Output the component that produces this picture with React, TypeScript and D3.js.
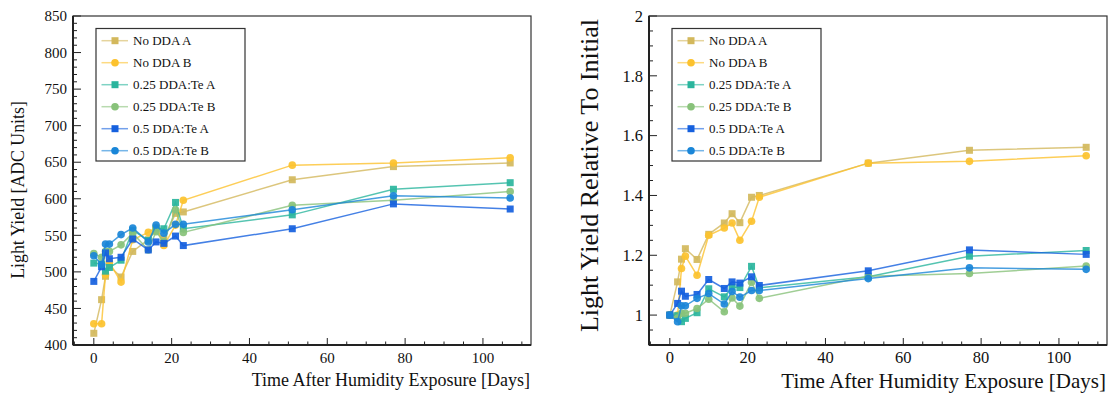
import React from 'react';
import * as d3 from 'd3';

// days after exposure (shared by every series)
const days = [0, 2, 3, 4, 7, 10, 14, 16, 18, 21, 23, 51, 77, 107];

const seriesNames = ['No DDA A', 'No DDA B', '0.25 DDA:Te A', '0.25 DDA:Te B', '0.5 DDA:Te A', '0.5 DDA:Te B'];
const seriesColors = ['#d3b85c', '#fcc22e', '#2ab59d', '#88c27a', '#1560de', '#1a86d8'];
const seriesShapes = ['square', 'circle', 'square', 'circle', 'square', 'circle'];

// left panel: light yield in ADC units
const adcNoDdaA = [416, 462, 494, 508, 493, 528, 544, 557, 545, 580, 582, 626, 644, 649];
const adcNoDdaB = [429, 429, 496, 513, 486, 544, 554, 561, 536, 564, 598, 646, 649, 656];
const adcQuarterA = [512, 511, 501, 506, 516, 557, 543, 560, 559, 595, 559, 578, 613, 622];
const adcQuarterB = [525, 520, 528, 528, 537, 553, 530, 555, 541, 585, 554, 591, 598, 610];
const adcHalfA = [487, 507, 526, 518, 520, 545, 530, 541, 539, 549, 536, 559, 593, 586];
const adcHalfB = [522, 510, 538, 538, 551, 560, 541, 564, 553, 565, 565, 585, 604, 601];

// right panel: light yield relative to day 0
const relNoDdaA = [1, 1.111, 1.187, 1.222, 1.186, 1.27, 1.308, 1.339, 1.309, 1.394, 1.4, 1.508, 1.551, 1.561];
const relNoDdaB = [1, 1.0, 1.156, 1.197, 1.133, 1.267, 1.291, 1.308, 1.25, 1.314, 1.394, 1.508, 1.514, 1.533];
const relQuarterA = [1, 0.998, 0.978, 0.989, 1.008, 1.088, 1.061, 1.094, 1.092, 1.163, 1.091, 1.128, 1.197, 1.216];
const relQuarterB = [1, 0.99, 1.006, 1.006, 1.022, 1.053, 1.011, 1.057, 1.03, 1.11, 1.056, 1.13, 1.139, 1.164];
const relHalfA = [1, 1.039, 1.08, 1.063, 1.069, 1.119, 1.089, 1.111, 1.107, 1.128, 1.099, 1.148, 1.218, 1.203];
const relHalfB = [1, 0.978, 1.031, 1.031, 1.056, 1.072, 1.037, 1.079, 1.06, 1.082, 1.082, 1.122, 1.158, 1.153];

const adcTicks = [400, 450, 500, 550, 600, 650, 700, 750, 800, 850];
const relTicks = [1, 1.2, 1.4, 1.6, 1.8, 2];
const dayTicks = [0, 20, 40, 60, 80, 100];

const FONT = '"Liberation Serif", "Times New Roman", serif';

const drawPanel = (svg, cfg) => {
  const { left, right, top, bottom, yDomain, yTicks, yMinorStep, series, yTitle, yTitleSize, tickSize, xTitleSize, yTitleX, legendX, fmt } = cfg;

  const x = d3.scaleLinear().domain([-5.35, 112.35]).range([left, right]);
  const y = d3.scaleLinear().domain(yDomain).range([bottom, top]);

  const g = svg.append('g');

  // minor / major ticks (drawn inward, ROOT style)
  const xMinor = d3.range(-5, 112.35, 5);
  g.selectAll('.xminor').data(xMinor).enter().append('line')
    .attr('x1', d => x(d)).attr('x2', d => x(d))
    .attr('y1', bottom).attr('y2', d => bottom - (d % 20 === 0 ? 7 : 3.5))
    .attr('stroke', '#222').attr('stroke-width', 1);

  const yMinor = d3.range(yDomain[0], yDomain[1] + 1e-9, yMinorStep);
  const isMajor = v => yTicks.some(t => Math.abs(t - v) < 1e-6);
  g.selectAll('.yminor').data(yMinor).enter().append('line')
    .attr('x1', left).attr('x2', d => left + (isMajor(d) ? 8 : 4))
    .attr('y1', d => y(d)).attr('y2', d => y(d))
    .attr('stroke', '#222').attr('stroke-width', 1);

  // frame
  g.append('rect')
    .attr('x', left).attr('y', top)
    .attr('width', right - left).attr('height', bottom - top)
    .attr('fill', 'none').attr('stroke', '#333').attr('stroke-width', 1.2);
  g.append('line').attr('x1', left).attr('x2', left).attr('y1', top).attr('y2', bottom)
    .attr('stroke', '#222').attr('stroke-width', 2);
  g.append('line').attr('x1', left).attr('x2', right).attr('y1', bottom).attr('y2', bottom)
    .attr('stroke', '#222').attr('stroke-width', 2);

  // tick labels
  g.selectAll('.xlab').data(dayTicks).enter().append('text')
    .attr('x', d => x(d)).attr('y', bottom + 18)
    .attr('text-anchor', 'middle')
    .style('font-family', FONT).style('font-size', tickSize + 'px').style('fill', '#111')
    .text(d => d);
  g.selectAll('.ylab').data(yTicks).enter().append('text')
    .attr('x', left - 6).attr('y', d => y(d)).attr('dy', '0.35em')
    .attr('text-anchor', 'end')
    .style('font-family', FONT).style('font-size', tickSize + 'px').style('fill', '#111')
    .text(fmt);

  // axis titles
  g.append('text')
    .attr('x', right - 1).attr('y', cfg.xTitleY)
    .attr('text-anchor', 'end')
    .style('font-family', FONT).style('font-size', xTitleSize + 'px').style('fill', '#111')
    .text('Time After Humidity Exposure [Days]');
  g.append('text')
    .attr('transform', `translate(${yTitleX}, ${cfg.yTitleY}) rotate(-90)`)
    .attr('text-anchor', cfg.yTitleAnchor)
    .style('font-family', FONT).style('font-size', yTitleSize + 'px').style('fill', '#111')
    .text(yTitle);

  const line = d3.line().x((d, i) => x(days[i])).y(d => y(d));

  series.forEach((vals, si) => {
    const color = seriesColors[si];
    g.append('path')
      .datum(vals)
      .attr('d', line)
      .attr('fill', 'none')
      .attr('stroke', color)
      .attr('stroke-width', 1.5)
      .attr('stroke-opacity', 0.8);
    const pts = g.append('g');
    vals.forEach((v, i) => {
      if (seriesShapes[si] === 'square') {
        pts.append('rect')
          .attr('x', x(days[i]) - 3.5).attr('y', y(v) - 3.5)
          .attr('width', 7).attr('height', 7)
          .attr('fill', color).attr('fill-opacity', 0.92);
      } else {
        pts.append('circle')
          .attr('cx', x(days[i])).attr('cy', y(v)).attr('r', 3.8)
          .attr('fill', color).attr('fill-opacity', 0.92);
      }
    });
  });

  // legend
  const lg = g.append('g');
  lg.append('rect')
    .attr('x', legendX).attr('y', 28.5)
    .attr('width', 149).attr('height', 132.5)
    .attr('fill', 'white').attr('stroke', '#333').attr('stroke-width', 1.2);
  seriesNames.forEach((name, si) => {
    const ly = 40.7 + si * 22;
    const color = seriesColors[si];
    lg.append('line')
      .attr('x1', legendX + 5.5).attr('x2', legendX + 32)
      .attr('y1', ly).attr('y2', ly)
      .attr('stroke', color).attr('stroke-width', 1.5).attr('stroke-opacity', 0.6);
    if (seriesShapes[si] === 'square') {
      lg.append('rect')
        .attr('x', legendX + 15.5).attr('y', ly - 3.5)
        .attr('width', 7).attr('height', 7).attr('fill', color);
    } else {
      lg.append('circle')
        .attr('cx', legendX + 19).attr('cy', ly).attr('r', 3.8).attr('fill', color);
    }
    lg.append('text')
      .attr('x', legendX + 37).attr('y', ly).attr('dy', '0.35em')
      .style('font-family', FONT).style('font-size', '13px').style('fill', '#111')
      .text(name);
  });
};

const App = () => {
  const ref = React.useRef(null);

  React.useEffect(() => {
    const svg = d3.select(ref.current);
    svg.selectAll('*').remove();

    drawPanel(svg, {
      left: 73, right: 531, top: 16, bottom: 345,
      yDomain: [400, 850], yTicks: adcTicks, yMinorStep: 10,
      series: [adcNoDdaA, adcNoDdaB, adcQuarterA, adcQuarterB, adcHalfA, adcHalfB],
      yTitle: 'Light Yield [ADC Units]', yTitleSize: 17.8, yTitleX: 24, yTitleY: 190, yTitleAnchor: 'middle',
      tickSize: 15, xTitleSize: 18, xTitleY: 386,
      legendX: 96, fmt: d => d,
    });

    drawPanel(svg, {
      left: 649, right: 1107, top: 16, bottom: 345,
      yDomain: [0.9, 2], yTicks: relTicks, yMinorStep: 0.05,
      series: [relNoDdaA, relNoDdaB, relQuarterA, relQuarterB, relHalfA, relHalfB],
      yTitle: 'Light Yield Relative To Initial', yTitleSize: 26, yTitleX: 598, yTitleY: 19, yTitleAnchor: 'end',
      tickSize: 16.5, xTitleSize: 21, xTitleY: 387.5,
      legendX: 672, fmt: d => String(+d.toFixed(1)),
    });
  }, []);

  return (
    <svg ref={ref} width={1110} height={394}
      style={{ position: 'absolute', left: 0, top: 0, background: 'white' }} />
  );
};

export default App;
